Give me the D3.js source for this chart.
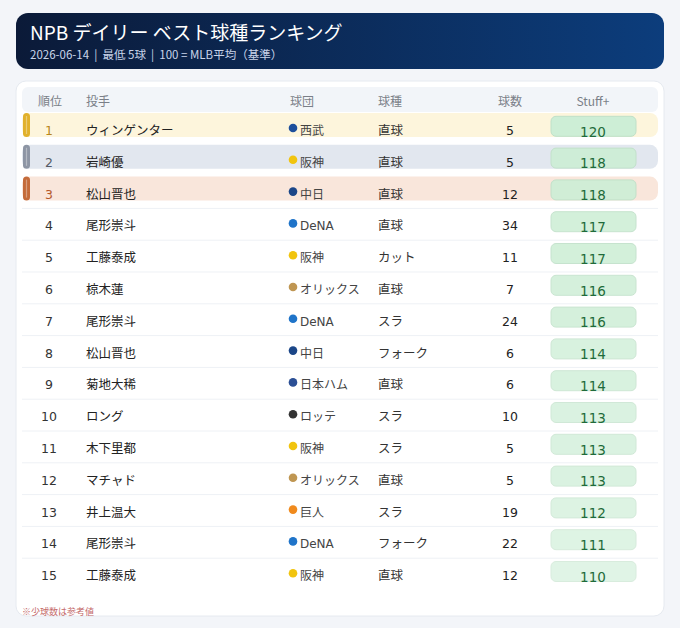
<!DOCTYPE html>
<html>
<head>
<meta charset="utf-8">
<script src="https://cdn.jsdelivr.net/npm/d3@7"></script>
<style>
  body { margin: 0; background: #f3f5f9; }
  svg { display: block; font-family: "DejaVu Sans", "Noto Sans CJK JP", sans-serif; }
  text { white-space: pre; }
</style>
</head>
<body>
<div id="chart"></div>
<script>
// ranking data
const ranks = [1, 2, 3, 4, 5, 6, 7, 8, 9, 10, 11, 12, 13, 14, 15];
const pitchers = ["ウィンゲンター", "岩崎優", "松山晋也", "尾形崇斗", "工藤泰成", "椋木蓮", "尾形崇斗",
  "松山晋也", "菊地大稀", "ロング", "木下里都", "マチャド", "井上温大", "尾形崇斗", "工藤泰成"];
const teams = ["西武", "阪神", "中日", "DeNA", "阪神", "オリックス", "DeNA", "中日", "日本ハム",
  "ロッテ", "阪神", "オリックス", "巨人", "DeNA", "阪神"];
const pitchTypes = ["直球", "直球", "直球", "直球", "カット", "直球", "スラ", "フォーク", "直球",
  "スラ", "スラ", "直球", "スラ", "フォーク", "直球"];
const counts = [5, 5, 12, 34, 11, 7, 24, 6, 6, 10, 5, 5, 19, 22, 12];
const stuffPlus = [120, 118, 118, 117, 117, 116, 116, 114, 114, 113, 113, 113, 112, 111, 110];
const headers = ["順位", "投手", "球団", "球種", "球数", "Stuff+"];

const teamColors = {
  "西武": "#1d4f9c", "阪神": "#f1c40f", "中日": "#1b4688", "DeNA": "#1f74c9",
  "オリックス": "#bf9652", "日本ハム": "#2b4f95", "ロッテ": "#333333", "巨人": "#f08a1d"
};
// top three styling
const medalBar = ["#e1b12c", "#8d95a4", "#c46b3a"];
const medalBg = ["#fdf5dc", "#e2e7ef", "#f9e6db"];
const medalText = ["#b8861a", "#555b66", "#b5582a"];

const width = 680, height = 628;

const svg = d3.select("#chart")
  .append("svg")
  .attr("width", width)
  .attr("height", height);

// banner
const grad = svg.append("defs").append("linearGradient")
  .attr("id", "banner").attr("x1", "0%").attr("x2", "100%");
grad.append("stop").attr("offset", "0%").attr("stop-color", "#0b1a38");
grad.append("stop").attr("offset", "100%").attr("stop-color", "#0c3d7c");

svg.append("rect")
  .attr("x", 16).attr("y", 13).attr("width", 648).attr("height", 56)
  .attr("rx", 12).attr("fill", "url(#banner)");

svg.append("text")
  .attr("x", 30).attr("y", 40)
  .attr("fill", "#ffffff").style("font-family", "'Noto Sans CJK JP', sans-serif")
  .style("font-size", "19px")
  .text("NPB デイリー ベスト球種ランキング");

svg.append("text")
  .attr("x", 30).attr("y", 59)
  .attr("fill", "#c9d5ea").style("font-family", "'Noto Sans CJK JP', sans-serif")
  .style("font-size", "11.5px")
  .text("2026-06-14  |  最低 5球  |  100 = MLB平均（基準）");

// card
svg.append("rect")
  .attr("x", 16).attr("y", 81).attr("width", 648).attr("height", 535)
  .attr("rx", 10).attr("fill", "#ffffff").attr("stroke", "#e6eaf0");

// header row
svg.append("rect")
  .attr("x", 22).attr("y", 87).attr("width", 636).attr("height", 25)
  .attr("rx", 6).attr("fill", "#f2f5f9");

const colX = [50, 86, 290, 378, 510, 593];
const colAnchor = ["middle", "start", "start", "start", "middle", "middle"];

svg.append("g").selectAll("text")
  .data(headers)
  .join("text")
  .attr("x", (d, i) => colX[i])
  .attr("y", 106)
  .attr("text-anchor", (d, i) => colAnchor[i])
  .attr("fill", "#7a7f88")
  .style("font-family", "'Noto Sans CJK JP', sans-serif")
  .style("font-size", "12px")
  .text(d => d);

// row scale
const y = d3.scaleBand()
  .domain(ranks)
  .range([113, 113 + 15 * 31.8]);

const pillOpacity = d3.scaleLinear()
  .domain([d3.min(stuffPlus), d3.max(stuffPlus)])
  .range([0.6, 1]);

const rows = svg.append("g").selectAll("g")
  .data(ranks)
  .join("g")
  .attr("transform", d => `translate(0,${y(d)})`);

// separators
rows.filter((d, i) => i >= 2 && i < ranks.length - 1)
  .append("line")
  .attr("x1", 22).attr("x2", 658)
  .attr("y1", y.bandwidth()).attr("y2", y.bandwidth())
  .attr("stroke", "#eef1f5");

// medal backgrounds
const top3 = rows.filter((d, i) => i < 3);
top3.append("rect")
  .attr("x", 22).attr("y", 0).attr("width", 636).attr("height", 24)
  .attr("rx", 8)
  .attr("fill", (d, i) => medalBg[i]);
top3.append("rect")
  .attr("x", 23).attr("y", 0).attr("width", 7).attr("height", 24)
  .attr("rx", 3.5)
  .attr("fill", (d, i) => medalBar[i]);
top3.append("line")
  .attr("x1", 26.5).attr("x2", 26.5).attr("y1", 3).attr("y2", 21)
  .attr("stroke", "#ffffff").attr("stroke-opacity", 0.35).attr("stroke-width", 1.2);

const textY = 22;

rows.append("text")
  .attr("x", colX[0] - 1).attr("y", textY)
  .attr("text-anchor", "middle")
  .attr("fill", (d, i) => i < 3 ? medalText[i] : "#333333")
  .style("font-size", "12.5px")
  .text(d => d);

rows.append("text")
  .attr("x", colX[1]).attr("y", textY)
  .attr("fill", "#222222")
  .style("font-family", "'Noto Sans CJK JP', sans-serif")
  .style("font-size", "12.5px")
  .text((d, i) => pitchers[i]);

rows.append("circle")
  .attr("cx", 293).attr("cy", 15).attr("r", 4.3)
  .attr("fill", (d, i) => teamColors[teams[i]]);

rows.append("text")
  .attr("x", 300).attr("y", textY)
  .attr("fill", "#444444")
  .style("font-family", (d, i) => /^[A-Za-z]+$/.test(teams[i]) ? "'DejaVu Sans', sans-serif" : "'Noto Sans CJK JP', sans-serif")
  .style("font-size", "12px")
  .text((d, i) => teams[i]);

rows.append("text")
  .attr("x", colX[3]).attr("y", textY)
  .attr("fill", "#333333")
  .style("font-family", "'Noto Sans CJK JP', sans-serif")
  .style("font-size", "12.5px")
  .text((d, i) => pitchTypes[i]);

rows.append("text")
  .attr("x", colX[4]).attr("y", textY)
  .attr("text-anchor", "middle")
  .attr("fill", "#222222")
  .style("font-size", "12.5px")
  .text((d, i) => counts[i]);

// Stuff+ pills
rows.append("rect")
  .attr("x", 551).attr("y", 3.3).attr("width", 85).attr("height", 20)
  .attr("rx", 5)
  .attr("fill", "#cdeed6")
  .attr("stroke", "#bfe0c8")
  .attr("opacity", (d, i) => pillOpacity(stuffPlus[i]));

rows.append("text")
  .attr("x", colX[5]).attr("y", 23.5)
  .attr("text-anchor", "middle")
  .attr("fill", "#1f6b3a")
  .style("font-size", "13.5px")
  .text((d, i) => stuffPlus[i]);

// footnote
svg.append("text")
  .attr("x", 22).attr("y", 615)
  .attr("fill", "#c46a6a")
  .style("font-family", "'Noto Sans CJK JP', sans-serif")
  .style("font-size", "9px")
  .text("※少球数は参考値");
</script>
</body>
</html>
